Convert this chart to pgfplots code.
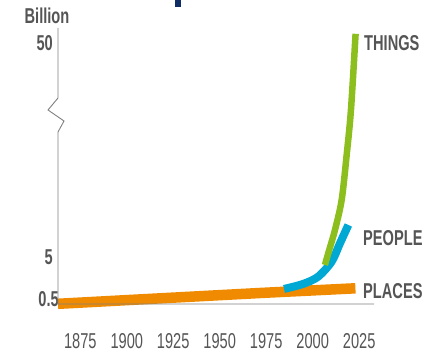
\documentclass[border=0pt]{standalone}
\usepackage{pgfplots}
\pgfplotsset{compat=1.18}
\usepackage{fontspec}
\setmainfont{Liberation Sans}[FakeStretch=0.68]
\definecolor{cgreen}{RGB}{140,190,30}
\definecolor{cblue}{RGB}{0,168,212}
\definecolor{corange}{RGB}{240,138,0}
\definecolor{ctext}{RGB}{85,85,85}
\definecolor{caxis}{RGB}{128,128,128}
\definecolor{cnavy}{RGB}{15,45,100}
\begin{document}
\begin{tikzpicture}
\useasboundingbox (0,0) rectangle (433pt,-352pt);
\fill[cnavy] (175pt,0) rectangle (181pt,-7pt);
\begin{axis}[
  at={(58pt,-304pt)}, anchor=south west,
  scale only axis, width=316pt, height=276pt,
  xmin=1863, xmax=2033, ymin=0, ymax=53.1,
  y coord trafo/.code={\pgfmathparse{min(#1,5)+0.506*max(#1-5,0)}},
  y coord inv trafo/.code={\pgfmathparse{min(#1,5)+max(#1-5,0)/0.506}},
  axis line style={draw=none},
  clip=false,
  major tick length=0pt,
  xtick={1875,1900,1925,1950,1975,2000,2025},
  ytick={0.5,5,50},
  yticklabels={0.5\hspace*{-6pt},5,50},
  /pgf/number format/1000 sep={},
  /pgf/number format/assume math mode=true,
  xticklabel style={font=\fontsize{21.5}{24}\selectfont, text=ctext, anchor=north, inner sep=0pt, yshift=-29pt},
  yticklabel style={font=\fontsize{21.5}{24}\selectfont\bfseries, text=ctext, anchor=east, inner sep=0pt, xshift=-5pt},
]
\addplot[corange, line width=10.5pt, no marks] coordinates {
  (1863,0.02) (1971.7,1.17) (2023,1.67)};
\addplot[cblue, line width=8pt, no marks, smooth] coordinates {
  (1984.6,1.60) (1994.8,2.13) (2002.9,2.90) (2010.2,4.50) (2014.7,7.88) (2019.2,11.72)};
\addplot[cgreen, line width=6.5pt, no marks, smooth] coordinates {
  (2006.6,4.15) (2008.9,6.47) (2012.0,10.67) (2015.6,16.98) (2018.3,26.44) (2020.6,35.9) (2023.1,51.88)};
\end{axis}
\draw[caxis, line width=0.9pt] (58pt,-28pt) -- (58pt,-98pt) -- (48pt,-110pt) -- (64pt,-121pt) -- (58pt,-132pt) -- (58pt,-304pt) -- (374pt,-304pt);
\node[anchor=center, inner sep=0pt, text=ctext, font=\fontsize{21.5}{24}\selectfont\bfseries] at (47pt,-15.5pt) {Billion};
\node[anchor=west, inner sep=0pt, text=ctext, font=\fontsize{21.5}{24}\selectfont\bfseries] at (364pt,-43pt) {THINGS};
\node[anchor=west, inner sep=0pt, text=ctext, font=\fontsize{21.5}{24}\selectfont\bfseries] at (363pt,-238pt) {PEOPLE};
\node[anchor=west, inner sep=0pt, text=ctext, font=\fontsize{21.5}{24}\selectfont\bfseries] at (363pt,-291pt) {PLACES};
\end{tikzpicture}
\end{document}
